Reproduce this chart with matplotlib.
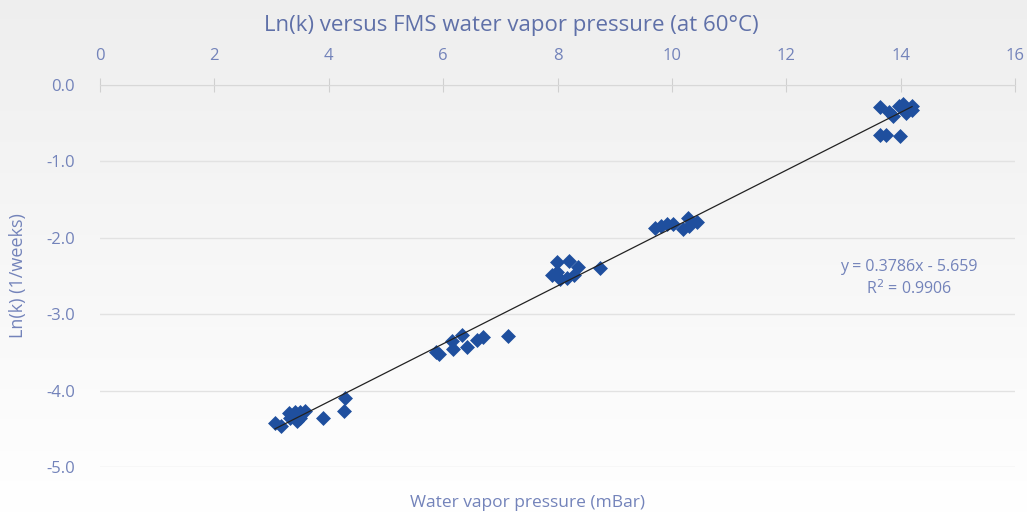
import numpy as np
import matplotlib
matplotlib.use("Agg")
import matplotlib.pyplot as plt

# Water vapor pressure (mBar) and Ln(k), cluster by cluster.
pressure = [
    3.06, 3.16, 3.30, 3.41, 3.50, 3.58, 3.44, 3.50, 3.32, 3.90, 4.28, 4.27,
    5.87, 5.93, 6.15, 6.33, 6.17, 6.42, 6.59, 6.70, 7.13,
    7.99, 8.20, 7.90, 7.99, 8.04, 8.16, 8.29, 8.36, 8.74,
    9.70, 9.81, 9.91, 10.02, 10.19, 10.30, 10.28, 10.44,
    13.64, 13.79, 13.86, 13.97, 14.04, 14.20, 14.09, 14.20, 13.64, 13.74, 13.99,
]
ln_k = [
    -4.42, -4.46, -4.29, -4.28, -4.28, -4.27, -4.40, -4.36, -4.36, -4.36, -4.10, -4.27,
    -3.49, -3.52, -3.35, -3.27, -3.46, -3.43, -3.34, -3.30, -3.29,
    -2.32, -2.30, -2.49, -2.45, -2.54, -2.53, -2.49, -2.38, -2.40,
    -1.87, -1.85, -1.82, -1.82, -1.88, -1.85, -1.74, -1.79,
    -0.29, -0.35, -0.41, -0.27, -0.25, -0.27, -0.37, -0.33, -0.65, -0.65, -0.67,
]
slope = 0.3786
intercept = -5.659
r_squared = 0.9906

x_ticks = [0, 2, 4, 6, 8, 10, 12, 14, 16]
y_ticks = [0.0, -1.0, -2.0, -3.0, -4.0, -5.0]

text_color = "#7383ba"
title_color = "#5f70a8"
marker_color = "#1f4f9e"
plt.rcParams["font.family"] = ["Open Sans", "DejaVu Sans"]

W, H = 1027, 513
fig = plt.figure(figsize=(W / 100, H / 100), dpi=100)

# light grey-to-white gradient behind everything
bg = fig.add_axes([0, 0, 1, 1], zorder=-10)
grad = np.linspace(0.935, 1.0, 256).reshape(-1, 1)
bg.imshow(np.dstack([grad, grad, grad]), aspect="auto", extent=[0, 1, 0, 1],
          origin="upper")
bg.axis("off")

ax = fig.add_axes([100 / W, 1 - 467 / H, 915 / W, 382 / H])
ax.patch.set_alpha(0)

ax.scatter(pressure, ln_k, marker="D", s=58, color=marker_color, zorder=3,
           linewidths=0)

xs = np.array([min(pressure), max(pressure)])
ax.plot(xs, slope * xs + intercept, color="#222222", lw=0.9, zorder=4)

ax.set_xlim(0, 16)
ax.set_ylim(-5, 0)
ax.set_xticks(x_ticks)
ax.set_yticks(y_ticks)
ax.set_yticklabels([f"{v:.1f}" for v in y_ticks])
ax.xaxis.tick_top()
ax.tick_params(axis="x", direction="inout", length=10, color="#d0d0d0",
               labelcolor=text_color, labelsize=12, pad=10)
ax.tick_params(axis="y", length=0, labelcolor=text_color, labelsize=12, pad=18)
ax.grid(axis="y", color="#e2e2e2", lw=1)
for side in ["left", "right", "bottom"]:
    ax.spines[side].set_visible(False)
ax.spines["top"].set_color("#d8d8d8")

ax.set_ylabel("Ln(k) (1/weeks)", color=text_color, fontsize=13, labelpad=14)
fig.text(527 / W, 1 - 503 / H, "Water vapor pressure (mBar)", color=text_color,
         fontsize=12.5, ha="center", va="center")
fig.text(511 / W, 1 - 25 / H, "Ln(k) versus FMS water vapor pressure (at 60°C)",
         color=title_color, fontsize=16, ha="center", va="center")

ax.text(15.35, -2.53, f"y = {slope}x - {abs(intercept)}\nR$^2$ = {r_squared}",
        color=text_color, fontsize=11.5, ha="right", va="center",
        multialignment="center", linespacing=1.3)

fig.savefig("out.png", dpi=100)
